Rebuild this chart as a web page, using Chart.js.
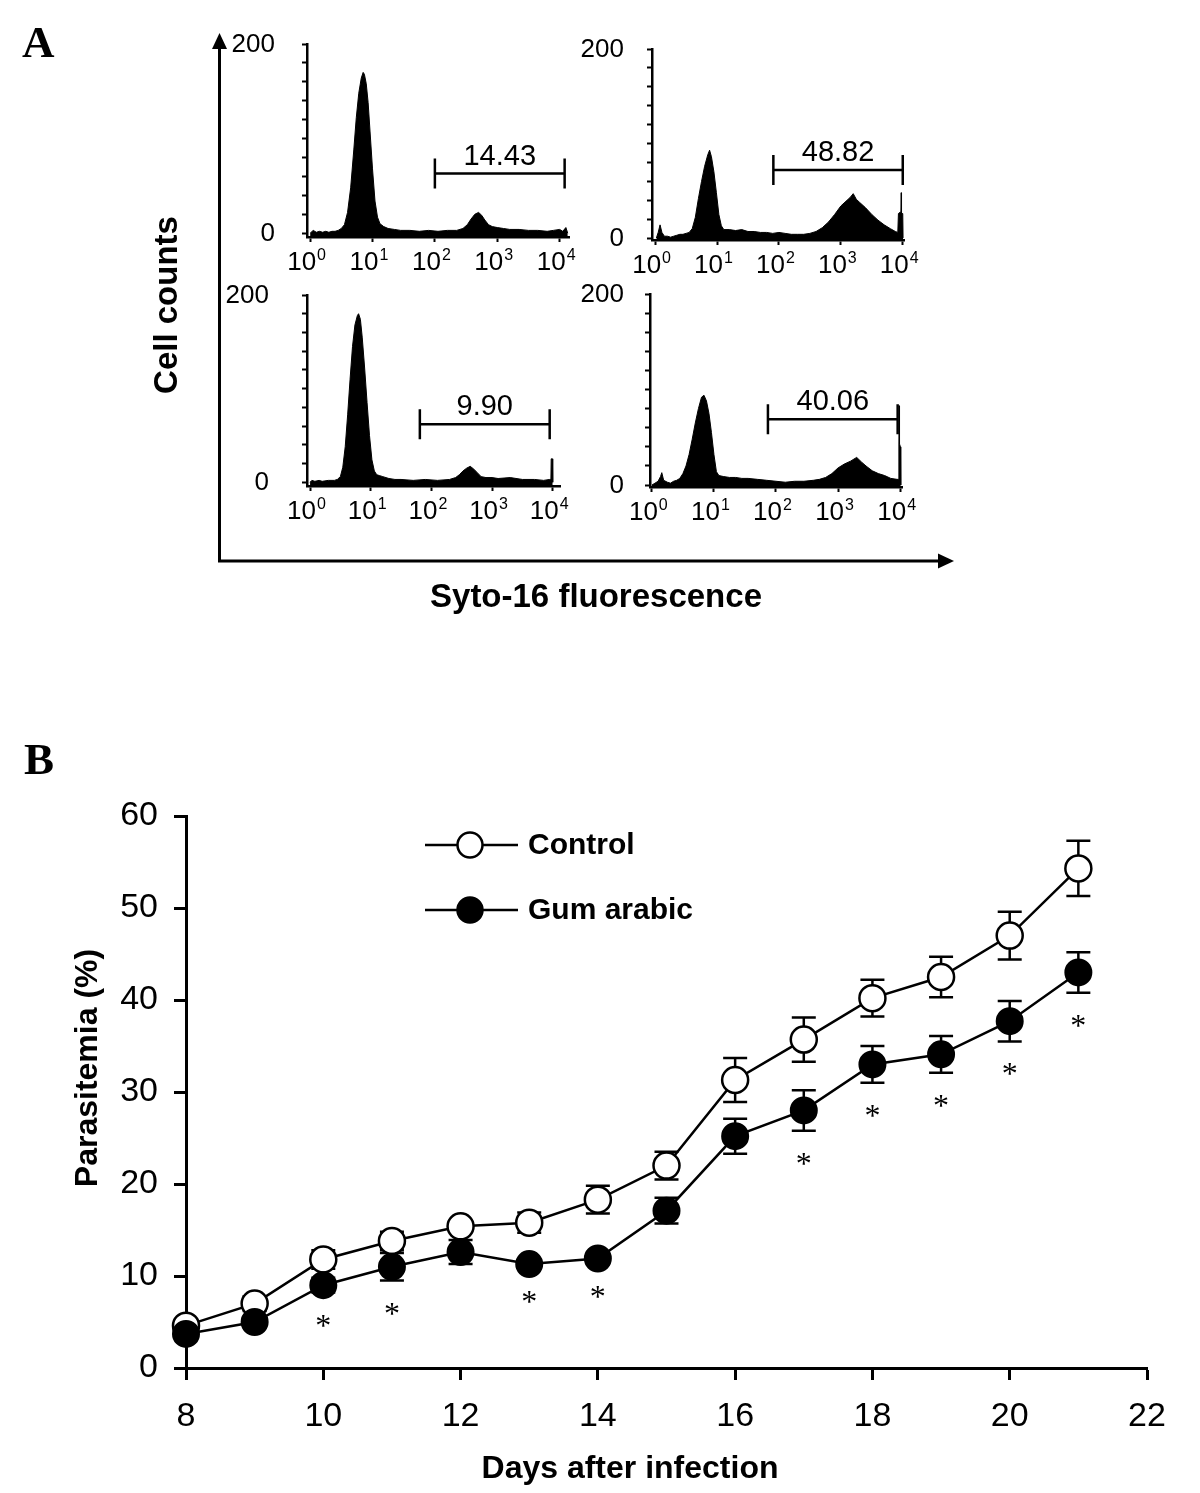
<!DOCTYPE html>
<html>
<head>
<meta charset="utf-8">
<script src="https://cdn.jsdelivr.net/npm/chart.js@4.4.1/dist/chart.umd.min.js"></script>
<style>
  html, body { margin: 0; padding: 0; background: #fff; }
  #page { position: relative; width: 1200px; height: 1493px; overflow: hidden; font-family: 'Liberation Sans', Arial, sans-serif; }
  canvas, .abs { position: absolute; }
  .panel-letter { font-family: 'Liberation Serif', 'Times New Roman', serif; font-weight: bold; font-size: 45px; line-height: 1; }
  .axis-title { font-weight: bold; font-size: 33px; line-height: 1; white-space: nowrap; transform: translate(-50%, -50%); }
</style>
</head>
<body>
<div id="page">
  <canvas id="h1"></canvas>
  <canvas id="h2"></canvas>
  <canvas id="h3"></canvas>
  <canvas id="h4"></canvas>
  <canvas id="growth" style="left:0; top:740px;" width="1200" height="753"></canvas>

  <svg class="abs" style="left:0; top:0;" width="1200" height="620">
    <g stroke="#000" stroke-width="3" fill="none">
      <line x1="219.5" y1="561" x2="219.5" y2="46" />
      <line x1="218" y1="561" x2="940" y2="561" />
    </g>
    <polygon points="212,49 227,49 219.5,33" fill="#000" />
    <polygon points="938,553.5 938,568.5 954,561" fill="#000" />
  </svg>

  <div class="abs panel-letter" style="left:22px; top:20px;">A</div>
  <div class="abs panel-letter" style="left:24px; top:737px;">B</div>
  <div class="abs axis-title" style="left:165px; top:305px; transform: translate(-50%, -50%) rotate(-90deg);">Cell counts</div>
  <div class="abs axis-title" style="left:596px; top:595px;">Syto-16 fluorescence</div>
</div>

<script>
Chart.defaults.font.family = "'Liberation Sans', Arial, sans-serif";
Chart.defaults.color = '#000';

// ---- panel A: Syto-16 histograms (x = log10 fluorescence) ----
const decadeTicks = [0, 1, 2, 3, 4];
const countTicks = [0, 20, 40, 60, 80, 100, 120, 140, 160, 180, 200];
const countLabels = [0, 200];

const h1Exp = [0.00, 0.05, 0.10, 0.15, 0.20, 0.25, 0.30, 0.35, 0.40, 0.45, 0.50, 0.55, 0.60, 0.65, 0.70, 0.74, 0.78, 0.82, 0.85, 0.87, 0.90, 0.93, 0.96, 1.00, 1.04, 1.08, 1.12, 1.18, 1.25, 1.35, 1.45, 1.60, 1.75, 1.90, 2.05, 2.20, 2.35, 2.45, 2.52, 2.58, 2.64, 2.70, 2.75, 2.80, 2.86, 2.92, 3.00, 3.10, 3.20, 3.35, 3.50, 3.65, 3.80, 3.90, 4.00, 4.05, 4.10, 4.13];
const h1Count = [0, 3, 1, 2, 1, 2, 1, 2, 2, 3, 5, 9, 22, 48, 88, 122, 148, 164, 170, 168, 158, 138, 108, 68, 34, 17, 10, 7, 5, 4, 3, 3, 2, 3, 2, 3, 3, 5, 9, 15, 20, 22, 19, 14, 9, 7, 6, 5, 4, 4, 3, 3, 2, 3, 4, 2, 6, 0];

const h2Exp = [0.02, 0.05, 0.08, 0.11, 0.15, 0.20, 0.25, 0.30, 0.35, 0.40, 0.45, 0.50, 0.55, 0.60, 0.65, 0.70, 0.75, 0.80, 0.85, 0.88, 0.91, 0.95, 0.99, 1.03, 1.07, 1.11, 1.20, 1.30, 1.40, 1.50, 1.60, 1.70, 1.80, 1.90, 2.00, 2.10, 2.20, 2.30, 2.40, 2.50, 2.60, 2.70, 2.80, 2.90, 3.00, 3.10, 3.15, 3.20, 3.25, 3.30, 3.40, 3.50, 3.60, 3.70, 3.80, 3.88, 3.92, 3.93, 3.97, 3.975, 3.98, 4.00, 4.005];
const h2Count = [0, 6, 14, 6, 2, 2, 1, 2, 3, 4, 4, 5, 6, 10, 22, 42, 60, 76, 88, 93, 86, 70, 48, 25, 13, 9, 9, 8, 9, 7, 7, 6, 6, 5, 6, 5, 4, 4, 4, 5, 7, 11, 17, 25, 34, 40, 43, 47, 41, 38, 32, 25, 19, 14, 10, 7, 6, 26, 28, 48, 26, 26, 0];

const h3Exp = [0.00, 0.03, 0.08, 0.15, 0.20, 0.30, 0.40, 0.45, 0.50, 0.54, 0.58, 0.62, 0.66, 0.70, 0.74, 0.78, 0.80, 0.83, 0.86, 0.90, 0.94, 0.98, 1.02, 1.06, 1.10, 1.15, 1.20, 1.30, 1.40, 1.50, 1.70, 1.90, 2.10, 2.30, 2.40, 2.46, 2.52, 2.58, 2.64, 2.70, 2.76, 2.82, 2.90, 3.00, 3.10, 3.30, 3.50, 3.70, 3.85, 3.95, 3.97, 3.975, 3.995, 4.00];
const h3Count = [0, 2, 1, 2, 1, 2, 2, 3, 6, 16, 38, 72, 110, 145, 168, 178, 180, 174, 155, 122, 85, 50, 24, 12, 8, 7, 6, 4, 3, 3, 2, 3, 2, 3, 5, 8, 12, 15, 17, 14, 10, 6, 5, 5, 4, 5, 3, 3, 2, 3, 3, 25, 25, 0];

const h4Exp = [0.00, 0.05, 0.10, 0.14, 0.16, 0.19, 0.25, 0.30, 0.35, 0.40, 0.45, 0.50, 0.55, 0.60, 0.65, 0.70, 0.75, 0.80, 0.84, 0.88, 0.92, 0.96, 1.00, 1.04, 1.08, 1.15, 1.25, 1.35, 1.45, 1.55, 1.70, 1.85, 2.00, 2.15, 2.30, 2.45, 2.60, 2.70, 2.80, 2.90, 3.00, 3.10, 3.20, 3.30, 3.38, 3.45, 3.55, 3.65, 3.75, 3.85, 3.95, 3.975, 3.98, 3.985, 3.99, 4.005, 4.01];
const h4Count = [0, 2, 4, 9, 13, 5, 3, 2, 4, 5, 7, 12, 20, 32, 48, 65, 80, 92, 94, 88, 75, 55, 32, 14, 10, 9, 8, 8, 7, 7, 6, 5, 4, 3, 4, 4, 5, 6, 8, 12, 18, 22, 25, 29, 24, 20, 15, 12, 10, 7, 6, 6, 43, 83, 43, 40, 0];

// marker gates: from / to (log10 fluorescence), height (counts), percentage
const gateFrom = [2.0, 1.91, 1.81, 1.87];
const gateTo = [4.08, 4.0, 3.95, 3.96];
const gateLevel = [63, 72, 62, 69];
const gateLabels = ['14.43', '48.82', '9.90', '40.06'];

// ---- panel B: parasitemia ----
const days = [8, 9, 10, 11, 12, 13, 14, 15, 16, 17, 18, 19, 20, 21];
const controlMean = [4.6, 7.0, 11.8, 13.8, 15.4, 15.8, 18.3, 22.0, 31.3, 35.7, 40.2, 42.5, 47.0, 54.3];
const controlSem = [0.5, 0.8, 1.0, 1.0, 0.6, 1.1, 1.5, 1.5, 2.4, 2.4, 2.0, 2.2, 2.6, 3.0];
const gumMean = [3.7, 5.0, 9.0, 11.0, 12.6, 11.3, 11.9, 17.1, 25.2, 28.0, 33.0, 34.1, 37.7, 43.0];
const gumSem = [0.5, 0.6, 0.8, 1.5, 1.3, 0.5, 0.6, 1.4, 1.9, 2.2, 2.0, 2.0, 2.2, 2.2];
const significantDays = [10, 11, 13, 14, 17, 18, 19, 20, 21];

const HIST_W = 360, HIST_H = 255;
const histBoxes = [
  { id: 'h1', left: 225, top: 20, axisX: 307, topY: 44, axisY: 237, rightX: 569, xMin: -0.05, xMax: 4.15, yMin: -4, labelGap: 32 },
  { id: 'h2', left: 580, top: 20, axisX: 652, topY: 49, axisY: 240, rightX: 904, xMin: -0.05, xMax: 4.02, yMin: -2, labelGap: 28 },
  { id: 'h3', left: 225, top: 270, axisX: 307, topY: 295, axisY: 486, rightX: 560, xMin: -0.05, xMax: 4.12, yMin: -4, labelGap: 38 },
  { id: 'h4', left: 580, top: 270, axisX: 650, topY: 294, axisY: 487, rightX: 902, xMin: -0.03, xMax: 4.03, yMin: -2, labelGap: 26 }
];

function histLabels(box) {
  return {
    id: 'histLabels',
    afterDraw(chart) {
      const { ctx, chartArea } = chart;
      const x = chart.scales.x, y = chart.scales.y;
      ctx.save();
      ctx.fillStyle = '#000';

      // decade labels 10^n
      const base = chartArea.bottom + 33;
      ctx.textBaseline = 'alphabetic';
      decadeTicks.forEach(v => {
        const px = x.getPixelForValue(v);
        ctx.font = "26px 'Liberation Sans', Arial, sans-serif";
        ctx.textAlign = 'right';
        ctx.fillText('10', px + 6, base);
        ctx.font = "16px 'Liberation Sans', Arial, sans-serif";
        ctx.textAlign = 'left';
        ctx.fillText(String(v), px + 7, base - 10);
      });

      // count labels
      ctx.font = "26px 'Liberation Sans', Arial, sans-serif";
      ctx.textAlign = 'right';
      ctx.textBaseline = 'middle';
      countLabels.forEach(v => {
        ctx.fillText(String(v), chartArea.left - box.labelGap, y.getPixelForValue(v) + 1);
      });
      ctx.restore();
    }
  };
}

function gatePlugin(i) {
  return {
    id: 'gate',
    afterDatasetsDraw(chart) {
      const { ctx } = chart;
      const x = chart.scales.x, y = chart.scales.y;
      const x0 = x.getPixelForValue(gateFrom[i]);
      const x1 = x.getPixelForValue(gateTo[i]);
      const gy = y.getPixelForValue(gateLevel[i]);
      ctx.save();
      ctx.strokeStyle = '#000';
      ctx.lineWidth = 2.5;
      ctx.beginPath();
      ctx.moveTo(x0, gy); ctx.lineTo(x1, gy);
      ctx.moveTo(x0, gy - 15); ctx.lineTo(x0, gy + 15);
      ctx.moveTo(x1, gy - 15); ctx.lineTo(x1, gy + 15);
      ctx.stroke();
      ctx.fillStyle = '#000';
      ctx.font = "29px 'Liberation Sans', Arial, sans-serif";
      ctx.textAlign = 'center';
      ctx.textBaseline = 'alphabetic';
      ctx.fillText(gateLabels[i], (x0 + x1) / 2, gy - 9);
      ctx.restore();
    }
  };
}

function drawHistogram(i, exps, counts) {
  const box = histBoxes[i];
  const canvas = document.getElementById(box.id);
  canvas.width = HIST_W;
  canvas.height = HIST_H;
  canvas.style.left = box.left + 'px';
  canvas.style.top = box.top + 'px';

  return new Chart(canvas, {
    type: 'line',
    data: {
      datasets: [{
        data: exps.map((e, k) => ({ x: e, y: counts[k] })),
        fill: 'start',
        backgroundColor: '#000',
        borderColor: '#000',
        borderWidth: 1,
        pointRadius: 0,
        tension: 0
      }]
    },
    options: {
      responsive: false,
      animation: false,
      devicePixelRatio: 1,
      layout: { padding: { top: box.topY - box.top, right: box.left + HIST_W - box.rightX, left: 0, bottom: 0 } },
      plugins: { legend: { display: false }, tooltip: { enabled: false } },
      scales: {
        x: {
          type: 'linear',
          min: box.xMin,
          max: box.xMax,
          afterBuildTicks: s => { s.ticks = decadeTicks.map(v => ({ value: v })); },
          afterFit: s => { s.height = box.top + HIST_H - box.axisY; },
          ticks: { display: false },
          grid: { drawOnChartArea: false, tickLength: 5, tickWidth: 2, tickColor: '#000' },
          border: { color: '#000', width: 2.5 }
        },
        y: {
          type: 'linear',
          min: box.yMin,
          max: 200,
          afterBuildTicks: s => { s.ticks = countTicks.map(v => ({ value: v })); },
          afterFit: s => { s.width = box.axisX - box.left; },
          ticks: { display: false },
          grid: { drawOnChartArea: false, tickLength: 5, tickWidth: 2, tickColor: '#000' },
          border: { color: '#000', width: 2.5 }
        }
      }
    },
    plugins: [histLabels(box), gatePlugin(i)]
  });
}

drawHistogram(0, h1Exp, h1Count);
drawHistogram(1, h2Exp, h2Count);
drawHistogram(2, h3Exp, h3Count);
drawHistogram(3, h4Exp, h4Count);

// ---- panel B ----
const errorBars = {
  id: 'errorBars',
  beforeDatasetsDraw(chart) {
    const { ctx } = chart;
    const x = chart.scales.x, y = chart.scales.y;
    ctx.save();
    ctx.strokeStyle = '#000';
    ctx.lineWidth = 2.5;
    [[controlMean, controlSem], [gumMean, gumSem]].forEach(([mean, sem]) => {
      days.forEach((d, i) => {
        const px = x.getPixelForValue(d);
        const top = y.getPixelForValue(mean[i] + sem[i]);
        const bot = y.getPixelForValue(mean[i] - sem[i]);
        ctx.beginPath();
        ctx.moveTo(px, top); ctx.lineTo(px, bot);
        ctx.moveTo(px - 12, top); ctx.lineTo(px + 12, top);
        ctx.moveTo(px - 12, bot); ctx.lineTo(px + 12, bot);
        ctx.stroke();
      });
    });
    ctx.restore();
  }
};

const decorations = {
  id: 'decorations',
  afterDraw(chart) {
    const { ctx } = chart;
    const x = chart.scales.x, y = chart.scales.y;
    ctx.save();
    ctx.fillStyle = '#000';

    // significance marks under the gum arabic series
    ctx.font = "32px 'Liberation Serif', 'Times New Roman', serif";
    ctx.textAlign = 'center';
    ctx.textBaseline = 'alphabetic';
    significantDays.forEach(d => {
      const i = days.indexOf(d);
      const py = y.getPixelForValue(gumMean[i] - gumSem[i]) + 26;
      ctx.fillText('*', x.getPixelForValue(d), py + 17);
    });

    // legend
    const items = [
      { label: 'Control', fill: '#fff', cy: 105 },
      { label: 'Gum arabic', fill: '#000', cy: 170 }
    ];
    items.forEach(it => {
      ctx.strokeStyle = '#000';
      ctx.lineWidth = 2.5;
      ctx.beginPath();
      ctx.moveTo(425, it.cy); ctx.lineTo(518, it.cy);
      ctx.stroke();
      ctx.beginPath();
      ctx.arc(470, it.cy, 12.5, 0, Math.PI * 2);
      ctx.fillStyle = it.fill;
      ctx.fill();
      ctx.stroke();
      ctx.fillStyle = '#000';
      ctx.font = "bold 30px 'Liberation Sans', Arial, sans-serif";
      ctx.textAlign = 'left';
      ctx.textBaseline = 'middle';
      ctx.fillText(it.label, 528, it.cy + 1);
    });

    // axis titles
    ctx.font = "bold 32px 'Liberation Sans', Arial, sans-serif";
    ctx.textAlign = 'center';
    ctx.textBaseline = 'alphabetic';
    ctx.fillText('Days after infection', 630, 738);
    ctx.translate(97, 328);
    ctx.rotate(-Math.PI / 2);
    ctx.fillText('Parasitemia (%)', 0, 0);
    ctx.restore();
  }
};

const axisStyle = {
  grid: { drawOnChartArea: false, tickLength: 12, tickWidth: 3, tickColor: '#000' },
  border: { color: '#000', width: 3 }
};

new Chart(document.getElementById('growth'), {
  type: 'line',
  data: {
    datasets: [
      {
        label: 'Gum arabic',
        order: 1,
        data: days.map((d, i) => ({ x: d, y: gumMean[i] })),
        borderColor: '#000',
        borderWidth: 2.5,
        pointRadius: 13,
        pointBackgroundColor: '#000',
        pointBorderColor: '#000',
        pointBorderWidth: 2,
        tension: 0,
        clip: false
      },
      {
        label: 'Control',
        order: 2,
        data: days.map((d, i) => ({ x: d, y: controlMean[i] })),
        borderColor: '#000',
        borderWidth: 2.5,
        pointRadius: 13,
        pointBackgroundColor: '#fff',
        pointBorderColor: '#000',
        pointBorderWidth: 2.5,
        tension: 0,
        clip: false
      }
    ]
  },
  options: {
    responsive: false,
    animation: false,
    devicePixelRatio: 1,
    layout: { padding: { top: 76, right: 53, left: 0, bottom: 0 } },
    plugins: { legend: { display: false }, tooltip: { enabled: false } },
    scales: {
      x: {
        type: 'linear',
        min: 8,
        max: 22,
        afterFit: s => { s.height = 125; },
        ticks: { stepSize: 2, padding: 16, color: '#000', font: { size: 34 } },
        ...axisStyle
      },
      y: {
        type: 'linear',
        min: 0,
        max: 60,
        afterFit: s => { s.width = 186; },
        ticks: { stepSize: 10, padding: 16, color: '#000', font: { size: 34 } },
        ...axisStyle
      }
    }
  },
  plugins: [errorBars, decorations]
});
</script>
</body>
</html>
